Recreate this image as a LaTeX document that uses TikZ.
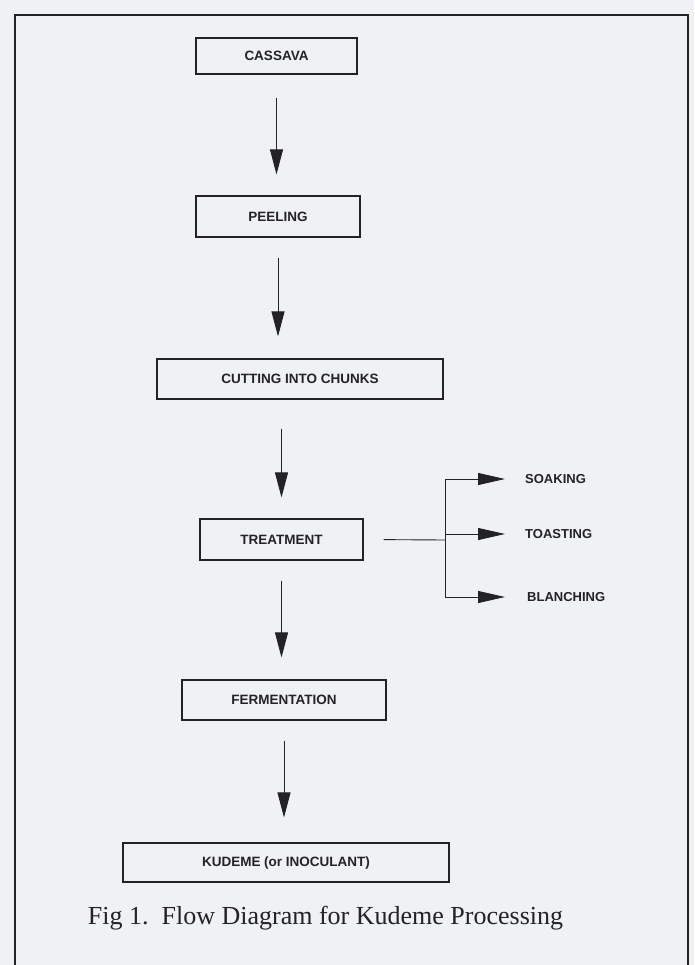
\documentclass[tikz,border=0pt]{standalone}
\usepackage{fontspec}
\setmainfont{Liberation Serif}
\newfontfamily\boxfont{Liberation Sans}
\usetikzlibrary{arrows.meta}
\definecolor{paper}{RGB}{240,241,245}
\definecolor{ink}{RGB}{35,35,38}
\tikzset{
  stepbox/.style={draw=ink, line width=1.1pt, inner sep=0pt, font=\boxfont\bfseries\fontsize{13.5}{15}\selectfont, text=ink},
  arr/.style={draw=ink, line width=0.9pt, -{Triangle[length=25pt,width=13pt]}},
  harr/.style={draw=ink, line width=0.9pt, -{Triangle[length=27pt,width=12pt]}},
  lbl/.style={font=\boxfont\bfseries\fontsize{13}{15}\selectfont, text=ink, anchor=west, inner sep=0pt},
  frame/.style={draw=ink, line width=1.8pt}
}
\begin{document}
\begin{tikzpicture}[x=1pt,y=1pt]
\useasboundingbox (0,0) rectangle (694,-965);
\fill[paper] (0,0) rectangle (694,-965);
\draw[frame] (15,-965) -- (15,-15) -- (688,-15) -- (688,-965);

\node[stepbox, minimum width=161pt, minimum height=36pt] (cassava) at (276.5,-56) {CASSAVA};
\node[stepbox, minimum width=164pt, minimum height=41pt] (peeling) at (278,-216.5) {PEELING};
\node[stepbox, minimum width=286pt, minimum height=40pt] (cutting) at (300,-379) {CUTTING INTO CHUNKS};
\node[stepbox, minimum width=163pt, minimum height=41pt] (treatment) at (281.5,-539.5) {TREATMENT};
\node[stepbox, minimum width=204pt, minimum height=40pt] (fermentation) at (284,-700) {FERMENTATION};
\node[stepbox, minimum width=326pt, minimum height=39pt] (kudeme) at (286,-862.5) {KUDEME (or INOCULANT)};

\draw[arr, shorten <=23pt, shorten >=21pt] (cassava.south) -- (cassava.south |- peeling.north);
\draw[arr, shorten <=20pt, shorten >=22pt] (peeling.south) -- (peeling.south |- cutting.north);
\draw[arr, shorten <=29pt, shorten >=21pt] (cutting.south -| treatment.south) -- (treatment.north);
\draw[arr, shorten <=20pt, shorten >=22pt] (treatment.south) -- (treatment.south |- fermentation.north);
\draw[arr, shorten <=20pt, shorten >=25pt] (fermentation.south) -- (fermentation.south |- kudeme.north);

\coordinate (bj) at (445,-540);
\coordinate (btop) at (445,-479);
\coordinate (bmid) at (445,-534);
\coordinate (bbot) at (445,-597);
\node[lbl] (soaking) at (525,-479) {SOAKING};
\node[lbl] (toasting) at (525,-534) {TOASTING};
\node[lbl] (blanching) at (527,-597) {BLANCHING};

\draw[draw=ink, line width=0.9pt, shorten <=20pt] (treatment.east) -- (bj);
\draw[draw=ink, line width=0.9pt] (btop) -- (bbot);
\draw[harr, shorten >=20pt] (btop) -- (soaking.west);
\draw[harr, shorten >=20pt] (bmid) -- (toasting.west);
\draw[harr, shorten >=22pt] (bbot) -- (blanching.west);

\node[font=\fontsize{26}{29}\selectfont, text=ink, inner sep=0pt] (caption) at (325.5,-918) {Fig 1.\ \ Flow Diagram for Kudeme Processing};
\end{tikzpicture}
\end{document}
